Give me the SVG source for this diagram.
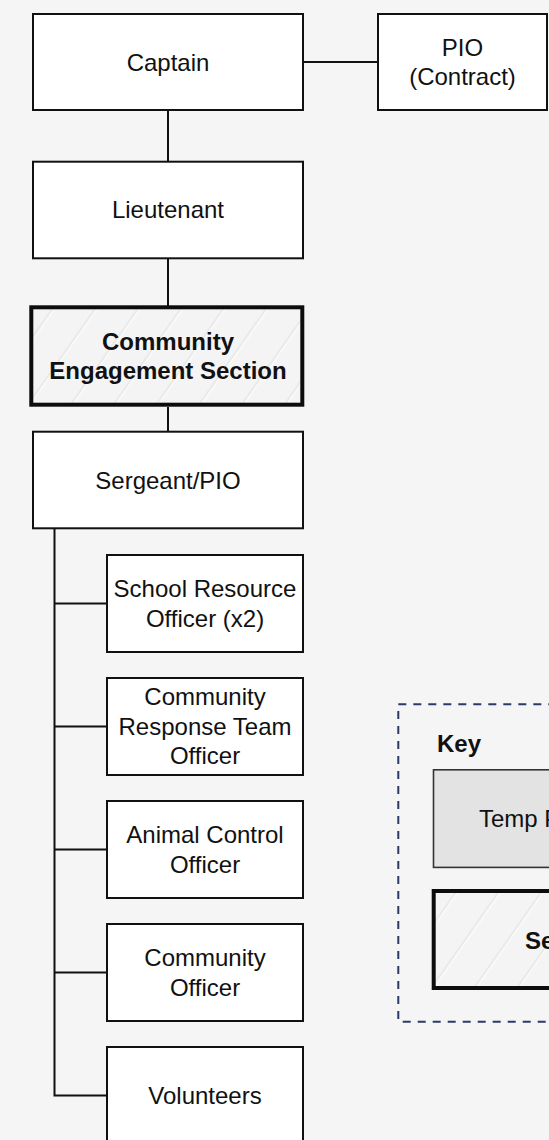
<svg xmlns="http://www.w3.org/2000/svg" width="549" height="1140" viewBox="0 0 549 1140">
<defs>
<pattern id="hatch" patternUnits="userSpaceOnUse" width="35" height="35" patternTransform="rotate(35)">
<rect width="35" height="35" fill="#f4f4f4"/>
<line x1="10" y1="0" x2="10" y2="35" stroke="#e6e6e6" stroke-width="1.4"/>
<line x1="11.8" y1="0" x2="11.8" y2="35" stroke="#fcfcfc" stroke-width="1.2"/>
</pattern>
</defs>
<style>
.box{fill:#ffffff;stroke:#111111;stroke-width:2}
.sec{fill:url(#hatch);stroke:#0d0d0d;stroke-width:4}
.temp{fill:#e3e3e3;stroke:#333333;stroke-width:1.6}
.t{font-family:"Liberation Sans",Arial,sans-serif;font-size:24px;fill:#111111;text-anchor:middle}
.b{font-weight:bold}
.s{text-anchor:start}
.conn{fill:none;stroke:#111111;stroke-width:2}
.keyframe{fill:none;stroke:#2b3a67;stroke-width:2;stroke-dasharray:8 7}
</style>
<rect width="549" height="1140" fill="#f5f5f5"/>

<g id="connectors">
<path class="conn" d="M303 62 H378"/>
<path class="conn" d="M168 110 V161.5"/>
<path class="conn" d="M168 258 V307"/>
<path class="conn" d="M168 407 V431.7"/>
<path class="conn" d="M54.5 528.3 V1095.5 H106"/>
<path class="conn" d="M54.5 603.5 H106"/>
<path class="conn" d="M54.5 726.5 H106"/>
<path class="conn" d="M54.5 849.5 H106"/>
<path class="conn" d="M54.5 972.5 H106"/>
</g>

<g id="captain">
<rect class="box" x="33" y="14" width="270" height="96"/>
<text class="t" x="168" y="70.5">Captain</text>
</g>
<g id="pio">
<rect class="box" x="378" y="14" width="169" height="96"/>
<text class="t" x="462.5" y="56">PIO</text>
<text class="t" x="462.5" y="85">(Contract)</text>
</g>
<g id="lieutenant">
<rect class="box" x="33" y="161.7" width="270" height="96.6"/>
<text class="t" x="168" y="218">Lieutenant</text>
</g>
<g id="section">
<rect class="sec" x="31.3" y="307.3" width="271" height="97.4"/>
<text class="t b" x="168" y="350">Community</text>
<text class="t b" x="168" y="379">Engagement Section</text>
</g>
<g id="sergeant">
<rect class="box" x="33" y="431.7" width="270" height="96.6"/>
<text class="t" x="168" y="488.5">Sergeant/PIO</text>
</g>
<g id="sro">
<rect class="box" x="107" y="555" width="196" height="97"/>
<text class="t" x="205" y="597">School Resource</text>
<text class="t" x="205" y="627">Officer (x2)</text>
</g>
<g id="crt">
<rect class="box" x="107" y="678" width="196" height="97"/>
<text class="t" x="205" y="705">Community</text>
<text class="t" x="205" y="734.5">Response Team</text>
<text class="t" x="205" y="763.5">Officer</text>
</g>
<g id="animal">
<rect class="box" x="107" y="801" width="196" height="97"/>
<text class="t" x="205" y="843">Animal Control</text>
<text class="t" x="205" y="872.5">Officer</text>
</g>
<g id="community-officer">
<rect class="box" x="107" y="924" width="196" height="97"/>
<text class="t" x="205" y="966">Community</text>
<text class="t" x="205" y="995.5">Officer</text>
</g>
<g id="volunteers">
<rect class="box" x="107" y="1047" width="196" height="97"/>
<text class="t" x="205" y="1104">Volunteers</text>
</g>

<g id="key">
<rect class="keyframe" x="398.3" y="704.3" width="170" height="317.4"/>
<text class="t b s" x="437" y="751.7">Key</text>
<g id="key-temp">
<rect class="temp" x="433.5" y="769.8" width="140" height="97.6"/>
<text class="t s" x="479" y="827">Temp Position</text>
</g>
<g id="key-section">
<rect class="sec" x="433.7" y="891" width="140" height="97"/>
<text class="t b s" x="525" y="949.3">Section</text>
</g>
</g>
</svg>
